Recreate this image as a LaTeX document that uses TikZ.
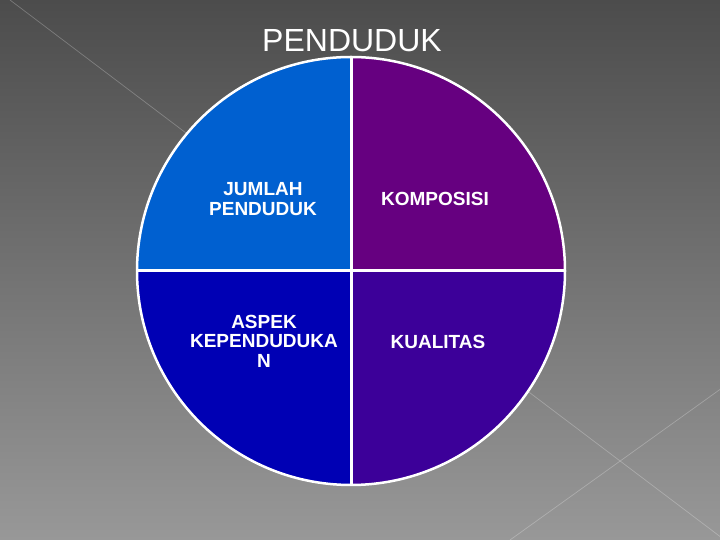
\documentclass[tikz,border=0pt]{standalone}
\usepackage{fontspec}
\setmainfont{Liberation Sans}
\definecolor{bgtop}{RGB}{76,76,76}
\definecolor{bgmid}{RGB}{96,96,96}
\definecolor{bgbot}{RGB}{152,152,152}
\definecolor{qtl}{RGB}{0,96,208}
\definecolor{qtr}{RGB}{102,0,128}
\definecolor{qbl}{RGB}{0,0,180}
\definecolor{qbr}{RGB}{60,0,153}
\tikzset{
  quad/.style={draw=none},
  divider/.style={draw=white, line width=3pt},
  deco/.style={draw=white, opacity=0.25, line width=0.7pt},
  lbl/.style={text=white, font=\fontsize{19}{19.5}\selectfont\bfseries, align=center, inner sep=0pt},
  ttl/.style={text=white, font=\fontsize{32}{34}\selectfont, inner sep=0pt}
}
\begin{document}
\begin{tikzpicture}[x=1pt,y=1pt]
\useasboundingbox (0,0) rectangle (720,540);
\shade[top color=bgtop, middle color=bgmid, bottom color=bgbot] (0,0) rectangle (720,540);
% decorative background lines
\coordinate (d1a) at (10,540);
\coordinate (d1b) at (722,2);
\coordinate (d2a) at (510,0);
\coordinate (d2b) at (722,152);
\draw[deco] (d1a) -- (d1b);
\draw[deco] (d2a) -- (d2b);
% pie
\coordinate (c) at (351,269);
\fill[qtl] (c) -- ++(-214,0) arc (180:90:214) -- cycle;
\fill[qtr] (c) -- ++(0,214) arc (90:0:214) -- cycle;
\fill[qbl] (c) -- ++(0,-214) arc (270:180:214) -- cycle;
\fill[qbr] (c) -- ++(214,0) arc (0:-90:214) -- cycle;
\coordinate (cl) at (137,269);
\coordinate (cr) at (565,269);
\coordinate (ct) at (351,483);
\coordinate (cb) at (351,55);
\draw[divider] (cl) -- (cr);
\draw[divider] (ct) -- (cb);
\draw[draw=white, line width=2.5pt] (c) circle (214);
% texts
\node[ttl] (title) at (352,499) {PENDUDUK};
\node[lbl] (jumlah) at (263,341) {JUMLAH\\PENDUDUK};
\node[lbl] (komposisi) at (435,341) {KOMPOSISI};
\node[lbl] (aspek) at (264,199) {ASPEK\\KEPENDUDUKA\\N};
\node[lbl] (kualitas) at (438,198) {KUALITAS};
\end{tikzpicture}
\end{document}
